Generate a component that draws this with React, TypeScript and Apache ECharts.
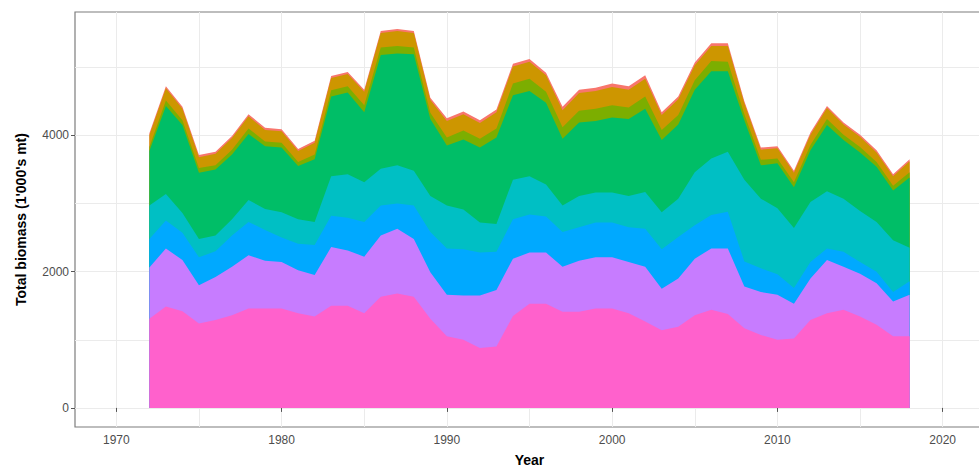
import { useEffect, useRef } from "react";
import * as echarts from "echarts";

const years = [
  1972, 1973, 1974, 1975, 1976, 1977, 1978, 1979, 1980, 1981, 1982, 1983, 1984,
  1985, 1986, 1987, 1988, 1989, 1990, 1991, 1992, 1993, 1994, 1995, 1996, 1997,
  1998, 1999, 2000, 2001, 2002, 2003, 2004, 2005, 2006, 2007, 2008, 2009, 2010,
  2011, 2012, 2013, 2014, 2015, 2016, 2017, 2018,
];

// stacked from bottom (pink) to top (red)
const pinkValues = [
  1310, 1490, 1420, 1240, 1290, 1360, 1460, 1460, 1460, 1390, 1340, 1500, 1500,
  1390, 1630, 1680, 1630, 1310, 1050, 1000, 880, 900, 1350, 1530, 1530, 1410,
  1410, 1460, 1460, 1390, 1270, 1140, 1190, 1360, 1440, 1380, 1170, 1070, 1000,
  1020, 1290, 1390, 1440, 1340, 1220, 1050, 1050,
];
const purpleValues = [
  750, 850, 750, 560, 630, 710, 780, 700, 680, 630, 610, 860, 810, 830, 900, 950,
  850, 680, 610, 650, 770, 830, 840, 750, 750, 660, 750, 750, 750, 750, 800, 610,
  710, 830, 900, 960, 610, 630, 660, 510, 610, 780, 630, 630, 610, 510, 610,
];
const blueValues = [
  420, 410, 400, 410, 380, 460, 490, 450, 360, 390, 440, 460, 480, 510, 440, 370,
  490, 590, 680, 680, 630, 560, 580, 560, 530, 510, 490, 510, 510, 510, 560, 580,
  610, 490, 490, 540, 370, 350, 300, 230, 240, 170, 220, 170, 170, 140, 200,
];
const cyanValues = [
  490, 390, 290, 270, 230, 240, 320, 310, 370, 360, 340, 580, 640, 580, 540, 560,
  510, 530, 630, 580, 440, 410, 580, 560, 470, 390, 460, 440, 440, 460, 540, 540,
  560, 780, 830, 880, 1200, 1020, 970, 880, 880, 840, 780, 750, 730, 760, 490,
];
const greenValues = [
  800, 1290, 1290, 970, 970, 950, 970, 920, 950, 780, 920, 1170, 1200, 1030, 1670,
  1640, 1710, 1130, 880, 1030, 1100, 1270, 1240, 1250, 1200, 980, 1080, 1050,
  1100, 1130, 1220, 1060, 1090, 1210, 1280, 1180, 870, 490, 660, 600, 760, 970,
  860, 860, 810, 730, 1030,
];
const oliveValues = [
  60, 80, 70, 70, 60, 70, 80, 70, 70, 60, 70, 90, 90, 100, 110, 110, 100, 90, 120,
  130, 130, 130, 170, 180, 160, 170, 170, 180, 180, 170, 180, 150, 140, 140, 150,
  140, 90, 80, 70, 70, 80, 90, 80, 80, 70, 70, 80,
];
const orangeValues = [
  170, 180, 170, 160, 170, 170, 180, 170, 170, 160, 170, 180, 180, 200, 210, 220,
  210, 190, 240, 240, 230, 240, 250, 250, 240, 250, 260, 260, 270, 260, 260, 220,
  230, 220, 220, 230, 160, 150, 150, 140, 150, 160, 150, 150, 140, 140, 160,
];
const redValues = [
  30, 30, 30, 30, 30, 30, 30, 30, 30, 30, 30, 30, 30, 30, 30, 30, 30, 30, 40, 40,
  40, 40, 40, 40, 40, 50, 50, 50, 50, 50, 50, 40, 40, 40, 40, 40, 30, 30, 30, 30,
  30, 30, 30, 30, 30, 30, 30,
];

const layers = [
  { name: "Group 8", color: "#FF61CC", values: pinkValues },
  { name: "Group 7", color: "#C77CFF", values: purpleValues },
  { name: "Group 6", color: "#00A9FF", values: blueValues },
  { name: "Group 5", color: "#00BFC4", values: cyanValues },
  { name: "Group 4", color: "#00BE67", values: greenValues },
  { name: "Group 3", color: "#7CAE00", values: oliveValues },
  { name: "Group 2", color: "#CD9600", values: orangeValues },
  { name: "Group 1", color: "#F8766D", values: redValues },
];

const xMajorTicks = [1970, 1980, 1990, 2000, 2010, 2020];
const xGridTicks = [1970, 1975, 1980, 1985, 1990, 1995, 2000, 2005, 2010, 2015, 2020];
const yMajorTicks = [0, 2000, 4000];
const yGridTicks = [0, 1000, 2000, 3000, 4000, 5000];

const FONT = "'Liberation Sans', Arial, sans-serif";

export default function App() {
  const ref = useRef<HTMLDivElement>(null);

  useEffect(() => {
    if (!ref.current) return;
    const chart = echarts.init(ref.current, null, { renderer: "svg" });
    const fmt = (v: number) => String(Math.round(v));

    // cumulative tops of each layer (bottom -> top)
    const running = years.map(() => 0);
    const cumulative = layers.map((l) => {
      const tops = l.values.map((v, i) => (running[i] += v));
      return { ...l, tops };
    });
    // draw the highest cumulative layer first so lower layers paint over it
    const drawOrder = [...cumulative].reverse();

    chart.setOption({
      animation: false,
      backgroundColor: "#ffffff",
      textStyle: { fontFamily: FONT },
      grid: {
        left: 75,
        top: 12,
        right: 16,
        bottom: 43,
        show: true,
        borderColor: "#7d7d7d",
        borderWidth: 1.2,
        backgroundColor: "transparent",
      },
      xAxis: [
        {
          type: "value",
          min: 1967.5,
          max: 2022.5,
          position: "bottom",
          axisLine: { show: false },
          axisTick: { show: false, customValues: xGridTicks },
          axisLabel: { show: false },
          splitLine: { show: true, lineStyle: { color: "#EBEBEB", width: 1 } },
        },
        {
          type: "value",
          min: 1967.5,
          max: 2022.5,
          position: "bottom",
          axisLine: { show: false },
          axisTick: {
            show: true,
            length: 4,
            customValues: xMajorTicks,
            lineStyle: { color: "#555555", width: 1 },
          },
          axisLabel: {
            customValues: xMajorTicks,
            formatter: fmt,
            color: "#4D4D4D",
            fontSize: 12,
            margin: 7,
            fontFamily: FONT,
          },
          splitLine: { show: false },
          name: "Year",
          nameLocation: "middle",
          nameGap: 26,
          nameTextStyle: {
            fontWeight: "bold",
            fontSize: 14,
            color: "#000000",
            fontFamily: FONT,
          },
        },
      ],
      yAxis: [
        {
          type: "value",
          min: -280,
          max: 5810,
          axisLine: { show: false },
          axisTick: { show: false, customValues: yGridTicks },
          axisLabel: { show: false },
          splitLine: { show: true, lineStyle: { color: "#EBEBEB", width: 1 } },
        },
        {
          type: "value",
          min: -280,
          max: 5810,
          position: "left",
          axisLine: { show: false },
          axisTick: {
            show: true,
            length: 4,
            customValues: yMajorTicks,
            lineStyle: { color: "#555555", width: 1 },
          },
          axisLabel: {
            customValues: yMajorTicks,
            formatter: fmt,
            color: "#4D4D4D",
            fontSize: 12,
            margin: 6,
            fontFamily: FONT,
          },
          splitLine: { show: false },
          name: "Total biomass (1'000's mt)",
          nameLocation: "middle",
          nameGap: 47,
          nameTextStyle: {
            fontWeight: "bold",
            fontSize: 14,
            color: "#000000",
            fontFamily: FONT,
          },
        },
      ],
      series: drawOrder.map((l) => ({
        type: "line",
        name: l.name,
        xAxisIndex: 0,
        yAxisIndex: 0,
        symbol: "none",
        silent: true,
        data: years.map((y, i) => [y, l.tops[i]]),
        lineStyle: { width: 0, opacity: 0 },
        itemStyle: { color: l.color },
        areaStyle: { color: l.color, opacity: 1, origin: 0 },
      })),
    });
    return () => chart.dispose();
  }, []);

  return (
    <div
      style={{
        position: "fixed",
        left: 0,
        top: 0,
        width: 979,
        height: 472,
        overflow: "hidden",
        background: "#ffffff",
      }}
    >
      <div ref={ref} style={{ width: 1000, height: 472 }} />
    </div>
  );
}
